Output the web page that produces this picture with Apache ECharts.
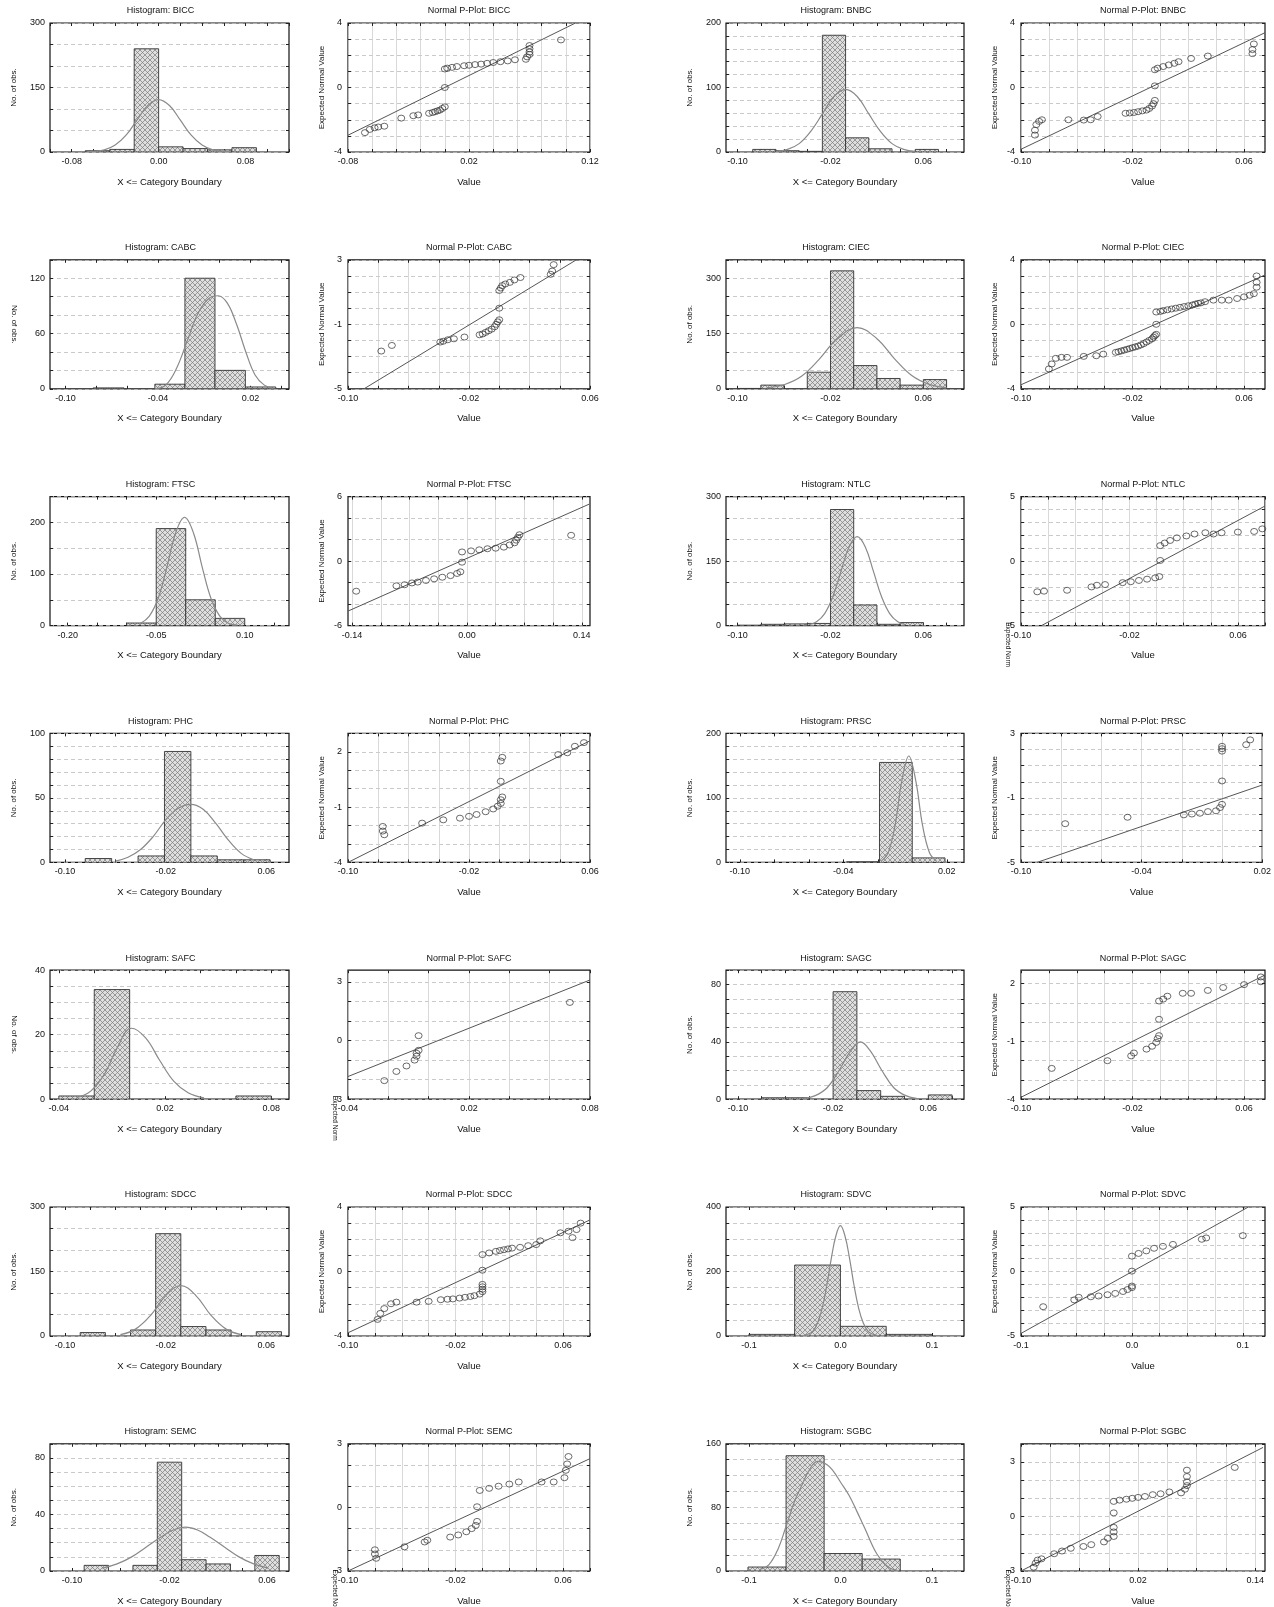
<!DOCTYPE html>
<html><head><meta charset="utf-8">
<script src="https://cdn.jsdelivr.net/npm/echarts@6/dist/echarts.min.js"></script>
<style>html,body{margin:0;padding:0;background:#fff}#c{width:1274px;height:1607px}</style>
</head><body><div id="c"></div>
<script>
// ===================== DATA =====================
const STOCKS = ['BICC','BNBC','CABC','CIEC','FTSC','NTLC','PHC','PRSC','SAFC','SAGC','SDCC','SDVC','SEMC','SGBC'];

// --- BICC ---
const BICC_edges  = [-0.0675,-0.045,-0.0225,0,0.0225,0.045,0.0675,0.09];
const BICC_counts = [3,6,240,12,8,5,10];
const BICC_curve  = [[-0.065,1],[-0.05,5],[-0.04,16],[-0.03,39],[-0.02,74],[-0.01,108],[0,122],[0.01,108],[0.02,74],[0.03,39],[0.04,16],[0.05,5],[0.065,1]];
const BICC_pp     = [[-0.066,-2.8],[-0.062,-2.6],[-0.058,-2.5],[-0.055,-2.45],[-0.05,-2.4],[-0.036,-1.9],[-0.026,-1.75],[-0.022,-1.7],[-0.013,-1.6],[-0.01,-1.55],[-0.008,-1.5],[-0.006,-1.45],[-0.004,-1.4],[-0.002,-1.3],[0,-1.2],[0,0],[0,1.15],[0.002,1.2],[0.006,1.25],[0.01,1.3],[0.016,1.35],[0.02,1.38],[0.025,1.42],[0.03,1.45],[0.035,1.5],[0.04,1.55],[0.046,1.6],[0.052,1.65],[0.058,1.72],[0.067,1.75],[0.068,1.9],[0.07,2.05],[0.07,2.2],[0.07,2.4],[0.07,2.6],[0.096,2.95]];
const BICC_fit    = [[-0.08,-2.96],[0.108,4]];
// --- BNBC ---
const BNBC_edges  = [-0.087,-0.067,-0.047,-0.027,-0.007,0.013,0.033,0.053,0.073];
const BNBC_counts = [4,2,1,181,22,5,0,4];
const BNBC_curve  = [[-0.067,1],[-0.057,4],[-0.047,13],[-0.037,32],[-0.027,59],[-0.017,86],[-0.007,97],[0.003,86],[0.013,59],[0.023,32],[0.033,13],[0.043,4],[0.053,1]];
const BNBC_pp     = [[-0.09,-2.95],[-0.09,-2.65],[-0.089,-2.3],[-0.087,-2.1],[-0.085,-2.0],[-0.066,-2.0],[-0.055,-2.02],[-0.05,-2.0],[-0.045,-1.8],[-0.025,-1.6],[-0.022,-1.58],[-0.019,-1.55],[-0.016,-1.5],[-0.013,-1.45],[-0.01,-1.4],[-0.008,-1.3],[-0.006,-1.15],[-0.005,-1.0],[-0.004,-0.8],[-0.004,0.1],[-0.004,1.1],[-0.002,1.2],[0.002,1.3],[0.006,1.4],[0.01,1.5],[0.013,1.6],[0.022,1.8],[0.034,1.95],[0.066,2.1],[0.066,2.35],[0.067,2.7]];
const BNBC_fit    = [[-0.10,-3.83],[0.075,3.4]];
// --- CABC ---
const CABC_edges  = [-0.082,-0.062,-0.042,-0.0225,-0.003,0.0167,0.0364];
const CABC_counts = [1,0,5,120,20,2];
const CABC_curve  = [[-0.042,0],[-0.035,4],[-0.028,22],[-0.021,52],[-0.014,82],[-0.007,98],[-0.001,101],[0.005,93],[0.011,70],[0.017,40],[0.023,15],[0.029,4],[0.035,0.5]];
const CABC_pp     = [[-0.078,-2.66],[-0.071,-2.31],[-0.039,-2.1],[-0.037,-2.05],[-0.034,-1.96],[-0.03,-1.9],[-0.023,-1.79],[-0.013,-1.65],[-0.011,-1.6],[-0.009,-1.5],[-0.007,-1.4],[-0.005,-1.3],[-0.003,-1.15],[-0.002,-1.0],[-0.001,-0.85],[0,-0.72],[0,0],[0,1.1],[0.001,1.25],[0.002,1.4],[0.004,1.5],[0.007,1.6],[0.01,1.75],[0.014,1.9],[0.034,2.1],[0.035,2.3],[0.036,2.7]];
const CABC_fit    = [[-0.0894,-5],[0.051,3]];
// --- CIEC ---
const CIEC_edges  = [-0.10,-0.08,-0.06,-0.04,-0.02,0,0.02,0.04,0.06,0.08];
const CIEC_counts = [1,10,0,45,320,63,28,10,25];
const CIEC_curve  = [[-0.075,3],[-0.06,11],[-0.045,34],[-0.03,79],[-0.015,133],[0.003,166],[0.02,136],[0.035,82],[0.05,36],[0.065,12],[0.08,3]];
const CIEC_pp     = [[-0.08,-2.77],[-0.078,-2.46],[-0.075,-2.11],[-0.071,-2.05],[-0.067,-2.05],[-0.055,-1.99],[-0.046,-1.95],[-0.041,-1.85],[-0.032,-1.74],[-0.03,-1.7],[-0.028,-1.65],[-0.026,-1.6],[-0.024,-1.55],[-0.022,-1.5],[-0.02,-1.45],[-0.018,-1.4],[-0.016,-1.35],[-0.014,-1.28],[-0.012,-1.2],[-0.01,-1.1],[-0.008,-1.0],[-0.006,-0.9],[-0.005,-0.8],[-0.004,-0.7],[-0.003,-0.62],[-0.003,0],[-0.003,0.76],[0,0.8],[0.002,0.85],[0.005,0.9],[0.008,0.95],[0.011,1.0],[0.014,1.05],[0.017,1.1],[0.02,1.15],[0.023,1.2],[0.025,1.25],[0.027,1.3],[0.029,1.33],[0.032,1.4],[0.038,1.5],[0.044,1.5],[0.049,1.5],[0.055,1.6],[0.06,1.7],[0.064,1.8],[0.067,1.9],[0.069,2.3],[0.069,2.6],[0.069,3.0]];
const CIEC_fit    = [[-0.10,-3.75],[0.075,3.06]];
// --- FTSC ---
const FTSC_edges  = [-0.10,-0.05,0,0.05,0.10];
const FTSC_counts = [5,188,50,14];
const FTSC_curve  = [[-0.077,4],[-0.062,18],[-0.047,52],[-0.032,113],[-0.017,180],[-0.002,210],[0.013,180],[0.028,113],[0.043,52],[0.058,18],[0.073,4],[0.088,1]];
const FTSC_pp     = [[-0.135,-2.8],[-0.086,-2.3],[-0.076,-2.2],[-0.067,-2.03],[-0.06,-1.95],[-0.05,-1.8],[-0.04,-1.65],[-0.03,-1.5],[-0.02,-1.35],[-0.012,-1.15],[-0.008,-1.0],[-0.006,-0.1],[-0.006,0.85],[0.005,0.95],[0.015,1.05],[0.025,1.15],[0.035,1.2],[0.045,1.3],[0.052,1.5],[0.058,1.7],[0.06,1.95],[0.062,2.2],[0.064,2.45],[0.127,2.4]];
const FTSC_fit    = [[-0.145,-4.65],[0.149,5.3]];
// --- NTLC ---
const NTLC_edges  = [-0.10,-0.08,-0.06,-0.04,-0.02,0,0.02,0.04,0.06,0.08];
const NTLC_counts = [1,3,4,5,270,48,3,7,0];
const NTLC_curve  = [[-0.039,2],[-0.032,9],[-0.025,28],[-0.018,67],[-0.011,126],[-0.004,183],[0.003,207],[0.01,183],[0.017,126],[0.024,67],[0.031,28],[0.038,9],[0.045,2]];
const NTLC_pp     = [[-0.088,-2.38],[-0.083,-2.33],[-0.066,-2.26],[-0.048,-2.0],[-0.044,-1.87],[-0.038,-1.82],[-0.025,-1.67],[-0.019,-1.6],[-0.013,-1.5],[-0.007,-1.4],[-0.001,-1.3],[0.002,-1.2],[0.0027,0.05],[0.0027,1.2],[0.006,1.4],[0.01,1.6],[0.015,1.8],[0.022,1.95],[0.028,2.1],[0.036,2.2],[0.042,2.1],[0.048,2.2],[0.06,2.25],[0.072,2.3],[0.078,2.5]];
const NTLC_fit    = [[-0.0849,-5],[0.08,4.27]];
// --- PHC ---
const PHC_edges   = [-0.084,-0.063,-0.042,-0.021,0,0.021,0.042,0.063];
const PHC_counts  = [3,0,5,86,5,2,2];
const PHC_curve   = [[-0.06,1],[-0.05,4],[-0.04,10],[-0.03,20],[-0.02,33],[-0.01,42],[0,45],[0.01,41],[0.02,30],[0.03,17],[0.04,7],[0.05,2]];
const PHC_pp      = [[-0.077,-2.05],[-0.077,-2.3],[-0.076,-2.5],[-0.051,-1.87],[-0.037,-1.69],[-0.026,-1.6],[-0.02,-1.5],[-0.015,-1.4],[-0.009,-1.25],[-0.004,-1.1],[-0.001,-0.95],[0.001,-0.8],[0.001,-0.6],[0.002,-0.45],[0.001,0.4],[0.001,1.5],[0.002,1.7],[0.039,1.85],[0.045,1.95],[0.05,2.3],[0.056,2.5]];
const PHC_fit     = [[-0.10,-4],[0.06,2.6]];
// --- PRSC ---
const PRSC_edges  = [-0.038,-0.019,0,0.019];
const PRSC_counts = [1,155,7];
const PRSC_curve  = [[-0.018,2],[-0.014,15],[-0.01,57],[-0.006,127],[-0.002,165],[0.002,127],[0.006,57],[0.01,15],[0.014,2]];
const PRSC_pp     = [[-0.078,-2.6],[-0.047,-2.2],[-0.019,-2.05],[-0.015,-2.0],[-0.011,-1.95],[-0.007,-1.85],[-0.003,-1.8],[-0.001,-1.6],[0,-1.4],[0,0.05],[0,1.9],[0,2.05],[0,2.2],[0.012,2.3],[0.014,2.6]];
const PRSC_fit    = [[-0.092,-5],[0.02,-0.2]];
// --- SAFC ---
const SAFC_edges  = [-0.04,-0.02,0,0.02,0.04,0.06,0.08];
const SAFC_counts = [1,34,0,0,0,1];
const SAFC_curve  = [[-0.03,0.5],[-0.022,2.5],[-0.014,8],[-0.007,16],[0.001,22],[0.009,19],[0.017,12],[0.025,5.5],[0.033,2],[0.042,0.4]];
const SAFC_pp     = [[-0.022,-2.05],[-0.016,-1.58],[-0.011,-1.3],[-0.007,-1.0],[-0.006,-0.8],[-0.006,-0.65],[-0.005,-0.5],[-0.005,0.25],[0.07,1.95]];
const SAFC_fit    = [[-0.04,-1.84],[0.08,3.1]];
// --- SAGC ---
const SAGC_edges  = [-0.10,-0.08,-0.06,-0.04,-0.02,0,0.02,0.04,0.06,0.08];
const SAGC_counts = [0,1,1,0,75,6,2,0,3];
const SAGC_curve  = [[-0.045,0.5],[-0.035,2.5],[-0.025,8],[-0.015,20],[-0.005,34],[0.003,40],[0.011,34],[0.021,20],[0.031,8],[0.041,2.5],[0.051,0.5]];
const SAGC_pp     = [[-0.078,-2.4],[-0.038,-2.0],[-0.021,-1.75],[-0.019,-1.6],[-0.01,-1.4],[-0.006,-1.25],[-0.003,-1.05],[-0.002,-0.85],[-0.001,-0.7],[-0.001,0.15],[-0.001,1.1],[0.002,1.2],[0.005,1.35],[0.016,1.5],[0.022,1.5],[0.034,1.65],[0.045,1.8],[0.06,1.95],[0.072,2.1],[0.072,2.35]];
const SAGC_fit    = [[-0.10,-3.9],[0.075,2.45]];
// --- SDCC ---
const SDCC_edges  = [-0.088,-0.068,-0.048,-0.028,-0.008,0.012,0.032,0.052,0.072];
const SDCC_counts = [8,0,14,238,22,14,0,10];
const SDCC_curve  = [[-0.056,3],[-0.044,16],[-0.032,48],[-0.02,94],[-0.008,117],[0.004,94],[0.016,48],[0.028,16],[0.04,3]];
const SDCC_pp     = [[-0.078,-2.97],[-0.076,-2.6],[-0.073,-2.3],[-0.068,-2.0],[-0.064,-1.9],[-0.049,-1.9],[-0.04,-1.85],[-0.031,-1.75],[-0.026,-1.72],[-0.022,-1.7],[-0.017,-1.65],[-0.013,-1.6],[-0.009,-1.55],[-0.006,-1.5],[-0.002,-1.4],[0,-1.25],[0,-1.1],[0,-0.95],[0,-0.8],[0,0.08],[0,1.05],[0.005,1.15],[0.01,1.25],[0.013,1.3],[0.016,1.35],[0.019,1.4],[0.022,1.45],[0.028,1.5],[0.034,1.6],[0.04,1.67],[0.043,1.9],[0.058,2.4],[0.064,2.5],[0.067,2.1],[0.07,2.6],[0.073,3.0]];
const SDCC_fit    = [[-0.10,-3.8],[0.08,3.2]];
// --- SDVC ---
const SDVC_edges  = [-0.10,-0.05,0,0.05,0.10];
const SDVC_counts = [5,220,30,5];
const SDVC_curve  = [[-0.04,2],[-0.035,6],[-0.03,15],[-0.025,40],[-0.02,85],[-0.015,155],[-0.01,240],[-0.005,310],[0,342],[0.005,310],[0.01,240],[0.015,155],[0.02,85],[0.025,40],[0.03,15],[0.035,6],[0.04,2]];
const SDVC_pp     = [[-0.08,-2.73],[-0.052,-2.2],[-0.048,-2.0],[-0.037,-1.96],[-0.03,-1.9],[-0.022,-1.8],[-0.015,-1.7],[-0.008,-1.55],[-0.004,-1.4],[0,-1.25],[0,-1.13],[0,0.03],[0,1.19],[0.006,1.4],[0.013,1.6],[0.02,1.8],[0.028,1.95],[0.037,2.1],[0.063,2.5],[0.067,2.6],[0.1,2.78]];
const SDVC_fit    = [[-0.10,-4.8],[0.105,5]];
// --- SEMC ---
const SEMC_edges  = [-0.09,-0.07,-0.05,-0.03,-0.01,0.01,0.03,0.05,0.07];
const SEMC_counts = [4,0,4,77,8,5,0,11];
const SEMC_curve  = [[-0.075,2],[-0.063,5],[-0.051,10],[-0.039,17],[-0.027,24],[-0.017,29],[-0.007,31],[0.003,29],[0.013,24],[0.025,17],[0.037,10],[0.049,5],[0.061,2]];
const SEMC_pp     = [[-0.08,-2.0],[-0.08,-2.2],[-0.079,-2.4],[-0.058,-1.86],[-0.043,-1.63],[-0.041,-1.55],[-0.024,-1.4],[-0.018,-1.3],[-0.012,-1.15],[-0.008,-1.0],[-0.005,-0.85],[-0.004,-0.66],[-0.004,0.03],[-0.002,0.8],[0.005,0.9],[0.012,1.0],[0.02,1.1],[0.027,1.2],[0.044,1.2],[0.053,1.2],[0.061,1.4],[0.062,1.75],[0.063,2.05],[0.064,2.4]];
const SEMC_fit    = [[-0.10,-3],[0.08,2.3]];
// --- SGBC ---
const SGBC_edges  = [-0.101,-0.0594,-0.0178,0.0238,0.0654];
const SGBC_counts = [5,145,22,15];
const SGBC_curve  = [[-0.088,2],[-0.078,8],[-0.068,28],[-0.06,54],[-0.05,88],[-0.0425,107],[-0.035,125],[-0.025,138],[-0.015,134],[-0.008,126],[0,112],[0.0095,95],[0.018,75],[0.0265,54],[0.04,21],[0.052,5],[0.062,1]];
const SGBC_pp     = [[-0.087,-2.79],[-0.085,-2.57],[-0.083,-2.4],[-0.079,-2.33],[-0.066,-2.05],[-0.058,-1.9],[-0.049,-1.75],[-0.036,-1.65],[-0.028,-1.55],[-0.015,-1.4],[-0.011,-1.2],[-0.005,-1.1],[-0.005,-0.85],[-0.005,-0.6],[-0.005,0.2],[-0.005,0.83],[0.001,0.9],[0.008,0.95],[0.014,1.0],[0.02,1.05],[0.027,1.1],[0.035,1.2],[0.043,1.25],[0.052,1.35],[0.064,1.3],[0.068,1.5],[0.07,1.7],[0.07,1.9],[0.07,2.2],[0.07,2.55],[0.119,2.7]];
const SGBC_fit    = [[-0.10,-3],[0.148,3.8]];

// ---- axis ranges / tick labels (x: [min,max], xt: [tickStart,step], xl: labels, xd: decimals) ----
const HIST_AX = {
  BICC:{x:[-0.10,0.12], xt:[-0.10,0.02], xl:[-0.08,0,0.08], xd:2, y:[0,300], ys:50, yl:[0,150,300]},
  BNBC:{x:[-0.11,0.095],xt:[-0.10,0.02], xl:[-0.10,-0.02,0.06], xd:2, y:[0,200], ys:20, yl:[0,100,200]},
  CABC:{x:[-0.11,0.045],xt:[-0.10,0.02], xl:[-0.10,-0.04,0.02], xd:2, y:[0,140], ys:20, yl:[0,60,120]},
  CIEC:{x:[-0.11,0.095],xt:[-0.10,0.02], xl:[-0.10,-0.02,0.06], xd:2, y:[0,350], ys:50, yl:[0,150,300]},
  FTSC:{x:[-0.23,0.175],xt:[-0.20,0.05], xl:[-0.20,-0.05,0.10], xd:2, y:[0,250], ys:50, yl:[0,100,200]},
  NTLC:{x:[-0.11,0.095],xt:[-0.10,0.02], xl:[-0.10,-0.02,0.06], xd:2, y:[0,300], ys:50, yl:[0,150,300]},
  PHC: {x:[-0.112,0.078],xt:[-0.10,0.02],xl:[-0.10,-0.02,0.06], xd:2, y:[0,100], ys:10, yl:[0,50,100]},
  PRSC:{x:[-0.108,0.03],xt:[-0.10,0.02], xl:[-0.10,-0.04,0.02], xd:2, y:[0,200], ys:20, yl:[0,100,200]},
  SAFC:{x:[-0.045,0.09],xt:[-0.04,0.02], xl:[-0.04,0.02,0.08], xd:2, y:[0,40], ys:5, yl:[0,20,40]},
  SAGC:{x:[-0.11,0.09], xt:[-0.10,0.02], xl:[-0.10,-0.02,0.06], xd:2, y:[0,90], ys:10, yl:[0,40,80]},
  SDCC:{x:[-0.112,0.078],xt:[-0.10,0.02],xl:[-0.10,-0.02,0.06], xd:2, y:[0,300], ys:50, yl:[0,150,300]},
  SDVC:{x:[-0.125,0.135],xt:[-0.10,0.05],xl:[-0.1,0,0.1], xd:1, y:[0,400], ys:50, yl:[0,200,400]},
  SEMC:{x:[-0.118,0.078],xt:[-0.10,0.02],xl:[-0.10,-0.02,0.06], xd:2, y:[0,90], ys:10, yl:[0,40,80]},
  SGBC:{x:[-0.125,0.135],xt:[-0.10,0.05],xl:[-0.1,0,0.1], xd:1, y:[0,160], ys:20, yl:[0,80,160]}
};
const PP_AX = {
  BICC:{x:[-0.08,0.12], xt:[-0.08,0.02], xl:[-0.08,0.02,0.12], xd:2, y:[-4,4], yl:[-4,0,4]},
  BNBC:{x:[-0.10,0.075],xt:[-0.10,0.02], xl:[-0.10,-0.02,0.06], xd:2, y:[-4,4], yl:[-4,0,4]},
  CABC:{x:[-0.10,0.06], xt:[-0.10,0.02], xl:[-0.10,-0.02,0.06], xd:2, y:[-5,3], yl:[-5,-1,3]},
  CIEC:{x:[-0.10,0.075],xt:[-0.10,0.02], xl:[-0.10,-0.02,0.06], xd:2, y:[-4,4], yl:[-4,0,4]},
  FTSC:{x:[-0.145,0.15],xt:[-0.14,0.035],xl:[-0.14,0,0.14], xd:2, y:[-6,6], ys:2, yl:[-6,0,6]},
  NTLC:{x:[-0.10,0.08], xt:[-0.10,0.02], xl:[-0.10,-0.02,0.06], xd:2, y:[-5,5], yl:[-5,0,5]},
  PHC: {x:[-0.10,0.06], xt:[-0.10,0.02], xl:[-0.10,-0.02,0.06], xd:2, y:[-4,3], yl:[-4,-1,2]},
  PRSC:{x:[-0.10,0.02], xt:[-0.10,0.02], xl:[-0.10,-0.04,0.02], xd:2, y:[-5,3], yl:[-5,-1,3]},
  SAFC:{x:[-0.04,0.08], xt:[-0.04,0.02], xl:[-0.04,0.02,0.08], xd:2, y:[-3,3.6], yl:[-3,0,3]},
  SAGC:{x:[-0.10,0.075],xt:[-0.10,0.02], xl:[-0.10,-0.02,0.06], xd:2, y:[-4,2.7], yl:[-4,-1,2]},
  SDCC:{x:[-0.10,0.08], xt:[-0.10,0.02], xl:[-0.10,-0.02,0.06], xd:2, y:[-4,4], yl:[-4,0,4]},
  SDVC:{x:[-0.10,0.12], xt:[-0.10,0.025],xl:[-0.1,0,0.1], xd:1, y:[-5,5], yl:[-5,0,5]},
  SEMC:{x:[-0.10,0.08], xt:[-0.10,0.02], xl:[-0.10,-0.02,0.06], xd:2, y:[-3,3], yl:[-3,0,3]},
  SGBC:{x:[-0.10,0.15], xt:[-0.10,0.03], xl:[-0.10,0.02,0.14], xd:2, y:[-3,4], yl:[-3,0,3]}
};
const FLIPPED_HIST_NAME = ['CABC','SAFC'];
const SHORT_PP_NAME = ['NTLC','SAFC','SEMC','SGBC'];

const D = {
  BICC:{edges:BICC_edges,counts:BICC_counts,curve:BICC_curve,pp:BICC_pp,fit:BICC_fit},
  BNBC:{edges:BNBC_edges,counts:BNBC_counts,curve:BNBC_curve,pp:BNBC_pp,fit:BNBC_fit},
  CABC:{edges:CABC_edges,counts:CABC_counts,curve:CABC_curve,pp:CABC_pp,fit:CABC_fit},
  CIEC:{edges:CIEC_edges,counts:CIEC_counts,curve:CIEC_curve,pp:CIEC_pp,fit:CIEC_fit},
  FTSC:{edges:FTSC_edges,counts:FTSC_counts,curve:FTSC_curve,pp:FTSC_pp,fit:FTSC_fit},
  NTLC:{edges:NTLC_edges,counts:NTLC_counts,curve:NTLC_curve,pp:NTLC_pp,fit:NTLC_fit},
  PHC:{edges:PHC_edges,counts:PHC_counts,curve:PHC_curve,pp:PHC_pp,fit:PHC_fit},
  PRSC:{edges:PRSC_edges,counts:PRSC_counts,curve:PRSC_curve,pp:PRSC_pp,fit:PRSC_fit},
  SAFC:{edges:SAFC_edges,counts:SAFC_counts,curve:SAFC_curve,pp:SAFC_pp,fit:SAFC_fit},
  SAGC:{edges:SAGC_edges,counts:SAGC_counts,curve:SAGC_curve,pp:SAGC_pp,fit:SAGC_fit},
  SDCC:{edges:SDCC_edges,counts:SDCC_counts,curve:SDCC_curve,pp:SDCC_pp,fit:SDCC_fit},
  SDVC:{edges:SDVC_edges,counts:SDVC_counts,curve:SDVC_curve,pp:SDVC_pp,fit:SDVC_fit},
  SEMC:{edges:SEMC_edges,counts:SEMC_counts,curve:SEMC_curve,pp:SEMC_pp,fit:SEMC_fit},
  SGBC:{edges:SGBC_edges,counts:SGBC_counts,curve:SGBC_curve,pp:SGBC_pp,fit:SGBC_fit}
};

// ===================== LAYOUT =====================
const ROW_TOP = [23, 259.8, 496.6, 733.4, 970.2, 1207, 1443.8];
const PLOT_H = 129;
const COLS = [[50,289],[348,590],[726,964],[1021,1265]];
const FONT = '"Liberation Sans", Arial, sans-serif';

function ticks(start, step, min, max) {
  const out = [];
  for (let i = 0; ; i++) {
    const v = +(start + i*step).toFixed(6);
    if (v > max + 1e-9) break;
    if (v >= min - 1e-9) out.push(v);
  }
  const back = [];
  for (let i = 1; ; i++) { const v = +(start - i*step).toFixed(6); if (v < min - 1e-9) break; back.push(v); }
  return back.reverse().concat(out);
}
function fmt(v, d) { if (Math.abs(v) < 1e-9) v = 0; return v.toFixed(d); }

const hatch = (function(){
  const c = document.createElement('canvas'); c.width = c.height = 5;
  const g = c.getContext('2d');
  g.fillStyle = '#dedede'; g.fillRect(0,0,5,5);
  g.strokeStyle = '#7a7a7a'; g.lineWidth = 0.7;
  g.beginPath(); g.moveTo(0,0); g.lineTo(5,5); g.moveTo(5,0); g.lineTo(0,5); g.stroke();
  return c;
})();

const grids = [], xAxes = [], yAxes = [], series = [], graphics = [];
const labelStyle = {fontSize: 9, color: '#111', fontFamily: FONT};
const xNameStyle = {fontSize: 9.5, color: '#111', fontFamily: FONT};
const yNameStyle = {fontSize: 8, color: '#111', fontFamily: FONT};

// extra tick-only axes on the top and right edges (mirror ticks, like the original frames)
function mirrorAxes(gi, xr, xtk, yr, ytk) {
  xAxes.push({type:'value', gridIndex: gi, position: 'top', min: xr[0], max: xr[1],
    axisLine: {show: false, onZero: false}, axisLabel: {show: false}, splitLine: {show: false},
    axisTick: {show: true, inside: true, length: 3, customValues: xtk, lineStyle: {color: '#222'}}});
  yAxes.push({type:'value', gridIndex: gi, position: 'right', min: yr[0], max: yr[1],
    axisLine: {show: false, onZero: false}, axisLabel: {show: false}, splitLine: {show: false},
    axisTick: {show: true, inside: true, length: 3, customValues: ytk, lineStyle: {color: '#222'}}});
}

STOCKS.forEach((s, i) => {
  const row = Math.floor(i/2), side = i % 2;
  const top = ROW_TOP[row];
  // ---------- histogram ----------
  {
    const col = COLS[side*2], gi = grids.length, ax = HIST_AX[s];
    const xtk = ticks(ax.xt[0], ax.xt[1], ax.x[0], ax.x[1]), ytk = ticks(0, ax.ys, ax.y[0], ax.y[1]);
    grids.push({left: col[0], top: top, width: col[1]-col[0], height: PLOT_H, show: true, borderColor: '#111', borderWidth: 1.2, backgroundColor: '#fff'});
    const xi = xAxes.length, yi = yAxes.length;
    xAxes.push({type:'value', gridIndex: gi, min: ax.x[0], max: ax.x[1],
      name: 'X <= Category Boundary', nameLocation: 'middle', nameGap: 25, nameTextStyle: xNameStyle,
      axisLine: {show: false, onZero: false},
      axisTick: {show: true, inside: true, length: 3, customValues: xtk, lineStyle: {color: '#222'}},
      axisLabel: Object.assign({customValues: ax.xl, margin: 5, formatter: v => fmt(v, ax.xd)}, labelStyle),
      splitLine: {show: false}});
    const flipped = FLIPPED_HIST_NAME.includes(s);
    yAxes.push({type:'value', gridIndex: gi, min: ax.y[0], max: ax.y[1],
      name: 'No. of obs.', nameLocation: 'middle', nameGap: 32, nameRotate: flipped ? -90 : 90, nameTextStyle: yNameStyle,
      axisLine: {show: false, onZero: false},
      axisTick: {show: true, inside: true, length: 3, customValues: ytk, lineStyle: {color: '#222'}},
      axisLabel: Object.assign({customValues: ax.yl, margin: 5, formatter: v => fmt(v, 0)}, labelStyle),
      splitLine: {show: true, lineStyle: {color: '#bcbcbc', width: 0.8, type: [4, 3]}}});
    mirrorAxes(gi, ax.x, xtk, ax.y, ytk);
    const bins = D[s].counts.map((c, k) => [D[s].edges[k], D[s].edges[k+1], c]);
    series.push({type: 'custom', xAxisIndex: xi, yAxisIndex: yi, clip: true, data: bins, z: 3,
      encode: {x: [0, 1], y: 2},
      renderItem: (params, api) => {
        const x0 = api.value(0), x1 = api.value(1), h = api.value(2);
        if (!h) return null;
        const a = api.coord([x0, h]), b = api.coord([x1, 0]);
        return {type: 'rect', shape: {x: a[0], y: a[1], width: b[0]-a[0], height: b[1]-a[1]},
          style: {fill: {image: hatch, repeat: 'repeat'}, stroke: '#333', lineWidth: 0.9}};
      }});
    series.push({type: 'line', xAxisIndex: xi, yAxisIndex: yi, data: D[s].curve, smooth: 0.4, showSymbol: false, symbol: 'none', z: 4,
      lineStyle: {color: '#8a8a8a', width: 1.2}});
    graphics.push({type: 'text', x: (col[0]+col[1])/2 - 9, y: top - 12, z: 10,
      style: {text: 'Histogram: ' + s, align: 'center', verticalAlign: 'middle', font: '9px ' + FONT, fill: '#111'}});
  }
  // ---------- normal probability plot ----------
  {
    const col = COLS[side*2+1], gi = grids.length, ax = PP_AX[s];
    const xtk = ticks(ax.xt[0], ax.xt[1], ax.x[0], ax.x[1]), ytk = ticks(Math.ceil(ax.y[0]), ax.ys || 1, ax.y[0], ax.y[1]);
    grids.push({left: col[0], top: top, width: col[1]-col[0], height: PLOT_H, show: true, borderColor: '#111', borderWidth: 1.2, backgroundColor: '#fff'});
    const xi = xAxes.length, yi = yAxes.length;
    xAxes.push({type:'value', gridIndex: gi, min: ax.x[0], max: ax.x[1],
      name: 'Value', nameLocation: 'middle', nameGap: 25, nameTextStyle: xNameStyle,
      axisLine: {show: false, onZero: false},
      axisTick: {show: true, inside: true, length: 3, customValues: xtk, lineStyle: {color: '#222'}},
      axisLabel: Object.assign({customValues: ax.xl, margin: 5, formatter: v => fmt(v, ax.xd)}, labelStyle),
      splitLine: {show: true, lineStyle: {color: '#cfcfcf', width: 0.8}}});
    const shortName = SHORT_PP_NAME.includes(s);
    yAxes.push({type:'value', gridIndex: gi, min: ax.y[0], max: ax.y[1],
      name: shortName ? '' : 'Expected Normal Value', nameLocation: 'middle', nameGap: 22, nameTextStyle: yNameStyle,
      axisLine: {show: false, onZero: false},
      axisTick: {show: true, inside: true, length: 3, customValues: ytk, lineStyle: {color: '#222'}},
      axisLabel: Object.assign({customValues: ax.yl, margin: 6, formatter: v => fmt(v, 0)}, labelStyle),
      splitLine: {show: true, lineStyle: {color: '#bdbdbd', width: 0.8, type: [4, 3]}}});
    mirrorAxes(gi, ax.x, xtk, ax.y, ytk);
    series.push({type: 'line', xAxisIndex: xi, yAxisIndex: yi, data: D[s].fit, showSymbol: false, symbol: 'none', z: 3,
      lineStyle: {color: '#555', width: 1}});
    series.push({type: 'scatter', xAxisIndex: xi, yAxisIndex: yi, data: D[s].pp, symbol: 'circle', symbolSize: [7, 6], z: 4,
      itemStyle: {color: 'rgba(255,255,255,0)', borderColor: '#333', borderWidth: 0.9}});
    graphics.push({type: 'text', x: (col[0]+col[1])/2, y: top - 12, z: 10,
      style: {text: 'Normal P-Plot: ' + s, align: 'center', verticalAlign: 'middle', font: '9px ' + FONT, fill: '#111'}});
    if (shortName) {
      graphics.push({type: 'text', x: col[0] - 13, y: top + PLOT_H + 19, rotation: -Math.PI/2, z: 10,
        style: {text: 'Expected Norm', align: 'center', verticalAlign: 'middle', font: '6.5px ' + FONT, fill: '#111'}});
    }
  }
});

const chart = echarts.init(document.getElementById('c'), null, {renderer: 'canvas', width: 1274, height: 1607});
chart.setOption({
  animation: false,
  backgroundColor: '#fff',
  grid: grids, xAxis: xAxes, yAxis: yAxes, series: series,
  graphic: {elements: graphics}
});
</script></body></html>
